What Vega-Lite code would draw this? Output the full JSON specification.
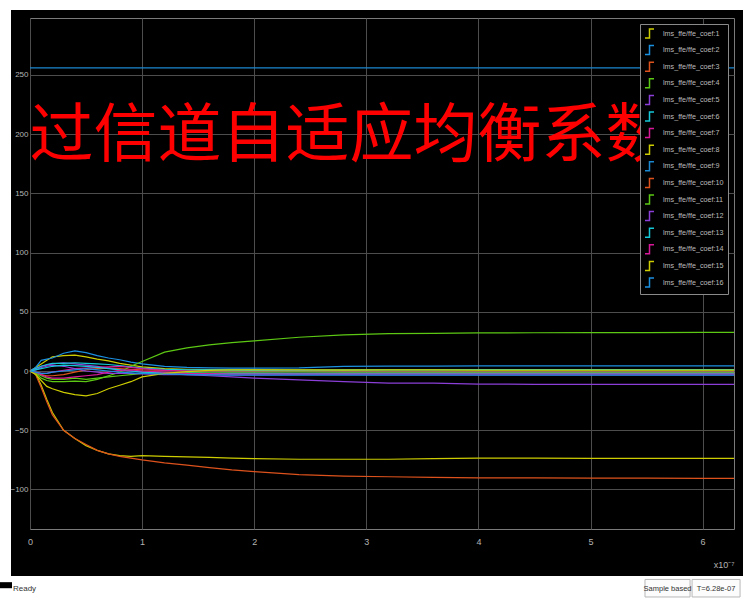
{
  "$schema": "https://vega.github.io/schema/vega-lite/v6.json",
  "width": 704,
  "height": 511,
  "autosize": {"type": "none"},
  "padding": {"left": 30, "top": 18, "right": 9, "bottom": 70},
  "background": "black",
  "config": {
    "view": {"stroke": "#7a7a7a", "strokeWidth": 1, "fill": "black"},
    "axis": {"grid": true, "gridColor": "#4d4d4d", "gridWidth": 1, "domain": false, "ticks": false, "tickSize": 0, "labelColor": "#b4b4b4", "labelFont": "Liberation Sans", "labelFontSize": 9, "titleColor": "#b4b4b4", "titleFontWeight": "normal", "titleFont": "Liberation Sans"},
    "legend": {"orient": "top-right", "offset": 6, "fillColor": "black", "strokeColor": "#8a8a8a", "padding": 4, "labelColor": "#bcbcbc", "labelFont": "Liberation Sans", "labelFontSize": 7.2, "labelOffset": 8, "labelLimit": 200, "symbolType": "M-1,1H0V-1H1", "symbolSize": 81, "symbolStrokeWidth": 1.5, "rowPadding": 1.6}
  },
  "layer": [
    {
      "data": {"values": [
        {"c":1,"t":0,"v":0},{"c":1,"t":0.05,"v":3},{"c":1,"t":0.1,"v":6},{"c":1,"t":0.15,"v":9},{"c":1,"t":0.2,"v":12},{"c":1,"t":0.3,"v":13},{"c":1,"t":0.4,"v":13.5},{"c":1,"t":0.5,"v":12},{"c":1,"t":0.6,"v":10},{"c":1,"t":0.7,"v":8.5},{"c":1,"t":0.8,"v":6.5},{"c":1,"t":0.9,"v":5},{"c":1,"t":1,"v":3.5},{"c":1,"t":1.2,"v":2},{"c":1,"t":1.4,"v":1.5},{"c":1,"t":1.6,"v":1.2},{"c":1,"t":1.8,"v":1},{"c":1,"t":2,"v":1},{"c":1,"t":2.4,"v":0.8},{"c":1,"t":2.8,"v":1},{"c":1,"t":3.2,"v":0.9},{"c":1,"t":3.6,"v":1},{"c":1,"t":4,"v":1},{"c":1,"t":4.5,"v":0.9},{"c":1,"t":5,"v":1},{"c":1,"t":5.5,"v":1},{"c":1,"t":6,"v":1},{"c":1,"t":6.28,"v":1},
        {"c":2,"t":0,"v":0},{"c":2,"t":0.05,"v":3},{"c":2,"t":0.1,"v":9},{"c":2,"t":0.15,"v":10},{"c":2,"t":0.2,"v":11},{"c":2,"t":0.3,"v":15},{"c":2,"t":0.4,"v":17},{"c":2,"t":0.5,"v":15.5},{"c":2,"t":0.6,"v":13},{"c":2,"t":0.7,"v":11},{"c":2,"t":0.8,"v":9.5},{"c":2,"t":0.9,"v":7.5},{"c":2,"t":1,"v":6},{"c":2,"t":1.2,"v":4},{"c":2,"t":1.4,"v":3},{"c":2,"t":1.6,"v":2.6},{"c":2,"t":1.8,"v":2.5},{"c":2,"t":2,"v":2.5},{"c":2,"t":2.4,"v":2.6},{"c":2,"t":2.8,"v":4},{"c":2,"t":3.2,"v":4.1},{"c":2,"t":3.6,"v":4.2},{"c":2,"t":4,"v":4.3},{"c":2,"t":4.5,"v":4.3},{"c":2,"t":5,"v":4.3},{"c":2,"t":5.5,"v":4.4},{"c":2,"t":6,"v":4.4},{"c":2,"t":6.28,"v":4.4},
        {"c":3,"t":0,"v":0},{"c":3,"t":0.05,"v":-1},{"c":3,"t":0.1,"v":-3},{"c":3,"t":0.15,"v":-4},{"c":3,"t":0.2,"v":-4},{"c":3,"t":0.3,"v":-3},{"c":3,"t":0.4,"v":-1},{"c":3,"t":0.5,"v":1},{"c":3,"t":0.6,"v":2},{"c":3,"t":0.7,"v":2.5},{"c":3,"t":0.8,"v":2},{"c":3,"t":0.9,"v":1.5},{"c":3,"t":1,"v":1},{"c":3,"t":1.2,"v":0.5},{"c":3,"t":1.4,"v":0.2},{"c":3,"t":1.6,"v":0},{"c":3,"t":1.8,"v":0},{"c":3,"t":2,"v":-0.3},{"c":3,"t":2.4,"v":-0.5},{"c":3,"t":2.8,"v":-0.5},{"c":3,"t":3.2,"v":-0.8},{"c":3,"t":3.6,"v":-1},{"c":3,"t":4,"v":-1},{"c":3,"t":4.5,"v":-1},{"c":3,"t":5,"v":-1},{"c":3,"t":5.5,"v":-1},{"c":3,"t":6,"v":-1},{"c":3,"t":6.28,"v":-1},
        {"c":4,"t":0,"v":0},{"c":4,"t":0.05,"v":-2},{"c":4,"t":0.1,"v":-6},{"c":4,"t":0.15,"v":-8},{"c":4,"t":0.2,"v":-9},{"c":4,"t":0.3,"v":-9},{"c":4,"t":0.4,"v":-8.5},{"c":4,"t":0.5,"v":-9},{"c":4,"t":0.6,"v":-7},{"c":4,"t":0.7,"v":-4},{"c":4,"t":0.8,"v":-1},{"c":4,"t":0.9,"v":4},{"c":4,"t":1,"v":8},{"c":4,"t":1.2,"v":16},{"c":4,"t":1.4,"v":19.5},{"c":4,"t":1.6,"v":22},{"c":4,"t":1.8,"v":24},{"c":4,"t":2,"v":25.5},{"c":4,"t":2.4,"v":28.5},{"c":4,"t":2.8,"v":30.5},{"c":4,"t":3.2,"v":31.5},{"c":4,"t":3.6,"v":31.8},{"c":4,"t":4,"v":32.2},{"c":4,"t":4.5,"v":32.3},{"c":4,"t":5,"v":32.5},{"c":4,"t":5.5,"v":32.5},{"c":4,"t":6,"v":32.6},{"c":4,"t":6.28,"v":32.6},
        {"c":5,"t":0,"v":0},{"c":5,"t":0.05,"v":2},{"c":5,"t":0.1,"v":4},{"c":5,"t":0.15,"v":5},{"c":5,"t":0.2,"v":6},{"c":5,"t":0.3,"v":7},{"c":5,"t":0.4,"v":6},{"c":5,"t":0.5,"v":5},{"c":5,"t":0.6,"v":4},{"c":5,"t":0.7,"v":2.5},{"c":5,"t":0.8,"v":1},{"c":5,"t":0.9,"v":0},{"c":5,"t":1,"v":-1},{"c":5,"t":1.2,"v":-2},{"c":5,"t":1.4,"v":-3},{"c":5,"t":1.6,"v":-4},{"c":5,"t":1.8,"v":-5},{"c":5,"t":2,"v":-6},{"c":5,"t":2.4,"v":-7.5},{"c":5,"t":2.8,"v":-9},{"c":5,"t":3.2,"v":-10.2},{"c":5,"t":3.6,"v":-10.3},{"c":5,"t":4,"v":-11},{"c":5,"t":4.5,"v":-11.2},{"c":5,"t":5,"v":-11.3},{"c":5,"t":5.5,"v":-11.3},{"c":5,"t":6,"v":-11.3},{"c":5,"t":6.28,"v":-11.3},
        {"c":6,"t":0,"v":0},{"c":6,"t":0.05,"v":2},{"c":6,"t":0.1,"v":4},{"c":6,"t":0.15,"v":5.5},{"c":6,"t":0.2,"v":6.5},{"c":6,"t":0.3,"v":6.5},{"c":6,"t":0.4,"v":7},{"c":6,"t":0.5,"v":6.5},{"c":6,"t":0.6,"v":6},{"c":6,"t":0.7,"v":5.5},{"c":6,"t":0.8,"v":4.5},{"c":6,"t":0.9,"v":3.5},{"c":6,"t":1,"v":2.5},{"c":6,"t":1.2,"v":1.5},{"c":6,"t":1.4,"v":1},{"c":6,"t":1.6,"v":1},{"c":6,"t":1.8,"v":0.8},{"c":6,"t":2,"v":0.5},{"c":6,"t":2.4,"v":0.5},{"c":6,"t":2.8,"v":0.8},{"c":6,"t":3.2,"v":1},{"c":6,"t":3.6,"v":1},{"c":6,"t":4,"v":1.2},{"c":6,"t":4.5,"v":1.2},{"c":6,"t":5,"v":1.2},{"c":6,"t":5.5,"v":1.2},{"c":6,"t":6,"v":1.2},{"c":6,"t":6.28,"v":1.2},
        {"c":7,"t":0,"v":0},{"c":7,"t":0.05,"v":-1},{"c":7,"t":0.1,"v":-2},{"c":7,"t":0.15,"v":-2},{"c":7,"t":0.2,"v":-1},{"c":7,"t":0.3,"v":0.5},{"c":7,"t":0.4,"v":2},{"c":7,"t":0.5,"v":2.5},{"c":7,"t":0.6,"v":3},{"c":7,"t":0.7,"v":3.5},{"c":7,"t":0.8,"v":4},{"c":7,"t":0.9,"v":3},{"c":7,"t":1,"v":2},{"c":7,"t":1.2,"v":0.5},{"c":7,"t":1.4,"v":0},{"c":7,"t":1.6,"v":-0.2},{"c":7,"t":1.8,"v":-0.5},{"c":7,"t":2,"v":-0.5},{"c":7,"t":2.4,"v":-0.3},{"c":7,"t":2.8,"v":-0.5},{"c":7,"t":3.2,"v":-0.5},{"c":7,"t":3.6,"v":-0.5},{"c":7,"t":4,"v":-0.5},{"c":7,"t":4.5,"v":-0.5},{"c":7,"t":5,"v":-0.5},{"c":7,"t":5.5,"v":-0.5},{"c":7,"t":6,"v":-0.5},{"c":7,"t":6.28,"v":-0.5},
        {"c":8,"t":0,"v":0},{"c":8,"t":0.05,"v":-2},{"c":8,"t":0.1,"v":-12},{"c":8,"t":0.15,"v":-24},{"c":8,"t":0.2,"v":-35},{"c":8,"t":0.3,"v":-50},{"c":8,"t":0.4,"v":-57},{"c":8,"t":0.5,"v":-63},{"c":8,"t":0.6,"v":-67},{"c":8,"t":0.7,"v":-70},{"c":8,"t":0.8,"v":-71.5},{"c":8,"t":0.9,"v":-72},{"c":8,"t":1,"v":-71.5},{"c":8,"t":1.2,"v":-72},{"c":8,"t":1.4,"v":-72.5},{"c":8,"t":1.6,"v":-73},{"c":8,"t":1.8,"v":-73.5},{"c":8,"t":2,"v":-74},{"c":8,"t":2.4,"v":-74.5},{"c":8,"t":2.8,"v":-74.5},{"c":8,"t":3.2,"v":-74.5},{"c":8,"t":3.6,"v":-74},{"c":8,"t":4,"v":-73.5},{"c":8,"t":4.5,"v":-73.5},{"c":8,"t":5,"v":-73.8},{"c":8,"t":5.5,"v":-73.8},{"c":8,"t":6,"v":-73.8},{"c":8,"t":6.28,"v":-73.8},
        {"c":9,"t":0,"v":256},{"c":9,"t":6.28,"v":256},
        {"c":10,"t":0,"v":0},{"c":10,"t":0.05,"v":-3},{"c":10,"t":0.1,"v":-14},{"c":10,"t":0.15,"v":-26},{"c":10,"t":0.2,"v":-37},{"c":10,"t":0.3,"v":-50},{"c":10,"t":0.4,"v":-57},{"c":10,"t":0.5,"v":-62},{"c":10,"t":0.6,"v":-67},{"c":10,"t":0.7,"v":-70},{"c":10,"t":0.8,"v":-72},{"c":10,"t":0.9,"v":-73.5},{"c":10,"t":1,"v":-75},{"c":10,"t":1.2,"v":-77.5},{"c":10,"t":1.4,"v":-79.5},{"c":10,"t":1.6,"v":-81.5},{"c":10,"t":1.8,"v":-83.5},{"c":10,"t":2,"v":-85},{"c":10,"t":2.4,"v":-87.5},{"c":10,"t":2.8,"v":-88.8},{"c":10,"t":3.2,"v":-89.3},{"c":10,"t":3.6,"v":-89.8},{"c":10,"t":4,"v":-90.2},{"c":10,"t":4.5,"v":-90.3},{"c":10,"t":5,"v":-90.5},{"c":10,"t":5.5,"v":-90.5},{"c":10,"t":6,"v":-90.6},{"c":10,"t":6.28,"v":-90.6},
        {"c":11,"t":0,"v":0},{"c":11,"t":0.05,"v":-2},{"c":11,"t":0.1,"v":-4},{"c":11,"t":0.15,"v":-6},{"c":11,"t":0.2,"v":-7},{"c":11,"t":0.3,"v":-7},{"c":11,"t":0.4,"v":-6},{"c":11,"t":0.5,"v":-7},{"c":11,"t":0.6,"v":-6},{"c":11,"t":0.7,"v":-5},{"c":11,"t":0.8,"v":-4},{"c":11,"t":0.9,"v":-3},{"c":11,"t":1,"v":-2},{"c":11,"t":1.2,"v":-1.5},{"c":11,"t":1.4,"v":-1.2},{"c":11,"t":1.6,"v":-1},{"c":11,"t":1.8,"v":-1},{"c":11,"t":2,"v":-1},{"c":11,"t":2.4,"v":-0.8},{"c":11,"t":2.8,"v":-1},{"c":11,"t":3.2,"v":-1},{"c":11,"t":3.6,"v":-1},{"c":11,"t":4,"v":-1},{"c":11,"t":4.5,"v":-1},{"c":11,"t":5,"v":-1},{"c":11,"t":5.5,"v":-1},{"c":11,"t":6,"v":-1},{"c":11,"t":6.28,"v":-1},
        {"c":12,"t":0,"v":0},{"c":12,"t":0.05,"v":1},{"c":12,"t":0.1,"v":3},{"c":12,"t":0.15,"v":4},{"c":12,"t":0.2,"v":5},{"c":12,"t":0.3,"v":4},{"c":12,"t":0.4,"v":2},{"c":12,"t":0.5,"v":0},{"c":12,"t":0.6,"v":-1},{"c":12,"t":0.7,"v":-2},{"c":12,"t":0.8,"v":-2},{"c":12,"t":0.9,"v":-2},{"c":12,"t":1,"v":-2.5},{"c":12,"t":1.2,"v":-3},{"c":12,"t":1.4,"v":-3},{"c":12,"t":1.6,"v":-3},{"c":12,"t":1.8,"v":-3.2},{"c":12,"t":2,"v":-3.2},{"c":12,"t":2.4,"v":-3},{"c":12,"t":2.8,"v":-3},{"c":12,"t":3.2,"v":-3.2},{"c":12,"t":3.6,"v":-3.2},{"c":12,"t":4,"v":-3.2},{"c":12,"t":4.5,"v":-3.2},{"c":12,"t":5,"v":-3.2},{"c":12,"t":5.5,"v":-3.2},{"c":12,"t":6,"v":-3.2},{"c":12,"t":6.28,"v":-3.2},
        {"c":13,"t":0,"v":0},{"c":13,"t":0.05,"v":1},{"c":13,"t":0.1,"v":2},{"c":13,"t":0.15,"v":3},{"c":13,"t":0.2,"v":4},{"c":13,"t":0.3,"v":5},{"c":13,"t":0.4,"v":4.5},{"c":13,"t":0.5,"v":4},{"c":13,"t":0.6,"v":3},{"c":13,"t":0.7,"v":2},{"c":13,"t":0.8,"v":1},{"c":13,"t":0.9,"v":0},{"c":13,"t":1,"v":-1},{"c":13,"t":1.2,"v":-1.5},{"c":13,"t":1.4,"v":-1.8},{"c":13,"t":1.6,"v":-2},{"c":13,"t":1.8,"v":-2},{"c":13,"t":2,"v":-2},{"c":13,"t":2.4,"v":-2},{"c":13,"t":2.8,"v":-2},{"c":13,"t":3.2,"v":-2},{"c":13,"t":3.6,"v":-2},{"c":13,"t":4,"v":-2},{"c":13,"t":4.5,"v":-2},{"c":13,"t":5,"v":-2},{"c":13,"t":5.5,"v":-2},{"c":13,"t":6,"v":-2},{"c":13,"t":6.28,"v":-2},
        {"c":14,"t":0,"v":0},{"c":14,"t":0.05,"v":-1},{"c":14,"t":0.1,"v":-3},{"c":14,"t":0.15,"v":-5},{"c":14,"t":0.2,"v":-6},{"c":14,"t":0.3,"v":-6},{"c":14,"t":0.4,"v":-5},{"c":14,"t":0.5,"v":-4},{"c":14,"t":0.6,"v":-3},{"c":14,"t":0.7,"v":-1},{"c":14,"t":0.8,"v":0.5},{"c":14,"t":0.9,"v":1},{"c":14,"t":1,"v":0},{"c":14,"t":1.2,"v":-1},{"c":14,"t":1.4,"v":-2},{"c":14,"t":1.6,"v":-2.2},{"c":14,"t":1.8,"v":-2.5},{"c":14,"t":2,"v":-2.5},{"c":14,"t":2.4,"v":-2.5},{"c":14,"t":2.8,"v":-2.5},{"c":14,"t":3.2,"v":-2.5},{"c":14,"t":3.6,"v":-2.5},{"c":14,"t":4,"v":-2.5},{"c":14,"t":4.5,"v":-2.5},{"c":14,"t":5,"v":-2.5},{"c":14,"t":5.5,"v":-2.5},{"c":14,"t":6,"v":-2.5},{"c":14,"t":6.28,"v":-2.5},
        {"c":15,"t":0,"v":0},{"c":15,"t":0.05,"v":-3},{"c":15,"t":0.1,"v":-8},{"c":15,"t":0.15,"v":-13},{"c":15,"t":0.2,"v":-15},{"c":15,"t":0.3,"v":-18},{"c":15,"t":0.4,"v":-20},{"c":15,"t":0.5,"v":-21},{"c":15,"t":0.6,"v":-19},{"c":15,"t":0.7,"v":-15},{"c":15,"t":0.8,"v":-12},{"c":15,"t":0.9,"v":-9},{"c":15,"t":1,"v":-5},{"c":15,"t":1.2,"v":-2},{"c":15,"t":1.4,"v":-0.5},{"c":15,"t":1.6,"v":0.5},{"c":15,"t":1.8,"v":1},{"c":15,"t":2,"v":1},{"c":15,"t":2.4,"v":1},{"c":15,"t":2.8,"v":0.8},{"c":15,"t":3.2,"v":1},{"c":15,"t":3.6,"v":1},{"c":15,"t":4,"v":0.8},{"c":15,"t":4.5,"v":0.8},{"c":15,"t":5,"v":0.8},{"c":15,"t":5.5,"v":0.8},{"c":15,"t":6,"v":0.8},{"c":15,"t":6.28,"v":0.8},
        {"c":16,"t":0,"v":0},{"c":16,"t":0.05,"v":-1},{"c":16,"t":0.1,"v":-2},{"c":16,"t":0.15,"v":-2},{"c":16,"t":0.2,"v":-1},{"c":16,"t":0.3,"v":0},{"c":16,"t":0.4,"v":1},{"c":16,"t":0.5,"v":2},{"c":16,"t":0.6,"v":1},{"c":16,"t":0.7,"v":0},{"c":16,"t":0.8,"v":-1},{"c":16,"t":0.9,"v":-1.5},{"c":16,"t":1,"v":-2},{"c":16,"t":1.2,"v":-2.5},{"c":16,"t":1.4,"v":-3},{"c":16,"t":1.6,"v":-3.2},{"c":16,"t":1.8,"v":-3.4},{"c":16,"t":2,"v":-3.5},{"c":16,"t":2.4,"v":-3.5},{"c":16,"t":2.8,"v":-3.5},{"c":16,"t":3.2,"v":-3.5},{"c":16,"t":3.6,"v":-3.5},{"c":16,"t":4,"v":-3.5},{"c":16,"t":4.5,"v":-3.5},{"c":16,"t":5,"v":-3.5},{"c":16,"t":5.5,"v":-3.5},{"c":16,"t":6,"v":-3.5},{"c":16,"t":6.28,"v":-3.5}
      ]},
      "mark": {"type": "line", "strokeWidth": 1.2},
      "encoding": {
        "x": {"field": "t", "type": "quantitative", "scale": {"domain": [0, 6.28], "nice": false, "zero": false}, "axis": {"values": [0, 1, 2, 3, 4, 5, 6], "format": "d", "labelFlush": false, "title": "x10⁻⁷", "titleAnchor": "end", "titleAlign": "right", "titleFontSize": 9, "titlePadding": 14, "labelPadding": 8}},
        "y": {"field": "v", "type": "quantitative", "scale": {"domain": [-133.4, 298.1], "nice": false, "zero": false}, "axis": {"values": [-100, -50, 0, 50, 100, 150, 200, 250], "title": null, "labelPadding": 2, "labelFontSize": 8}},
        "color": {"field": "c", "type": "nominal", "scale": {"domain": [1,2,3,4,5,6,7,8,9,10,11,12,13,14,15,16], "range": ["#cccc00","#1b8fe0","#dd521c","#5cc814","#8b3fd8","#14c8d8","#d8189a","#cccc00","#1a88d0","#dd521c","#5cc814","#8b3fd8","#14c8d8","#d8189a","#cccc00","#1b8fe0"]}, "legend": {"title": null, "labelExpr": "'lms_ffe/ffe_coef:' + datum.label"}}
      }
    },
    {
      "data": {"values": [{"label": "过信道自适应均衡系数"}]},
      "mark": {"type": "text", "font": "Noto Sans CJK SC", "fontSize": 64, "color": "#ff0000", "align": "center", "baseline": "middle"},
      "encoding": {"text": {"field": "label"}, "x": {"datum": 2.85}, "y": {"datum": 198}}
    },
    {
      "data": {"values": [{"part": "left"}]},
      "mark": {"type": "rect", "fill": "white"},
      "encoding": {"x": {"datum": -0.3}, "x2": {"datum": -0.1695}, "y": {"datum": 320}, "y2": {"datum": -200}}
    },
    {
      "data": {"values": [{"part": "top"}]},
      "mark": {"type": "rect", "fill": "white"},
      "encoding": {"x": {"datum": -0.3}, "x2": {"datum": 6.4}, "y": {"datum": 320}, "y2": {"datum": 304.8}}
    },
    {
      "data": {"values": [{"part": "status"}]},
      "mark": {"type": "rect", "fill": "white"},
      "encoding": {"x": {"datum": -0.3}, "x2": {"datum": 6.4}, "y": {"datum": -173.1}, "y2": {"datum": -200}}
    },
    {
      "data": {"values": [{"part": "mark"}]},
      "mark": {"type": "rect", "fill": "black"},
      "encoding": {"x": {"datum": -0.3}, "x2": {"datum": -0.1606}, "y": {"datum": -178.3}, "y2": {"datum": -183.4}}
    },
    {
      "data": {"values": [{"part": "box1"}]},
      "mark": {"type": "rect", "fill": "#fcfcfc", "stroke": "#b8b8b8", "strokeWidth": 1},
      "encoding": {"x": {"datum": 5.486}, "x2": {"datum": 5.888}, "y": {"datum": -176}, "y2": {"datum": -190.8}}
    },
    {
      "data": {"values": [{"part": "box2"}]},
      "mark": {"type": "rect", "fill": "#fcfcfc", "stroke": "#b8b8b8", "strokeWidth": 1},
      "encoding": {"x": {"datum": 5.906}, "x2": {"datum": 6.334}, "y": {"datum": -176}, "y2": {"datum": -190.8}}
    },
    {
      "data": {"values": [{"label": "Ready"}]},
      "mark": {"type": "text", "font": "Liberation Sans", "fontSize": 8, "color": "#333333", "align": "left", "baseline": "middle"},
      "encoding": {"text": {"field": "label"}, "x": {"datum": -0.152}, "y": {"datum": -184.1}}
    },
    {
      "data": {"values": [{"label": "Sample based"}]},
      "mark": {"type": "text", "font": "Liberation Sans", "fontSize": 7.5, "color": "#333333", "align": "center", "baseline": "middle"},
      "encoding": {"text": {"field": "label"}, "x": {"datum": 5.687}, "y": {"datum": -184.1}}
    },
    {
      "data": {"values": [{"label": "T=6.28e-07"}]},
      "mark": {"type": "text", "font": "Liberation Sans", "fontSize": 7.5, "color": "#333333", "align": "center", "baseline": "middle"},
      "encoding": {"text": {"field": "label"}, "x": {"datum": 6.12}, "y": {"datum": -184.1}}
    }
  ]
}
